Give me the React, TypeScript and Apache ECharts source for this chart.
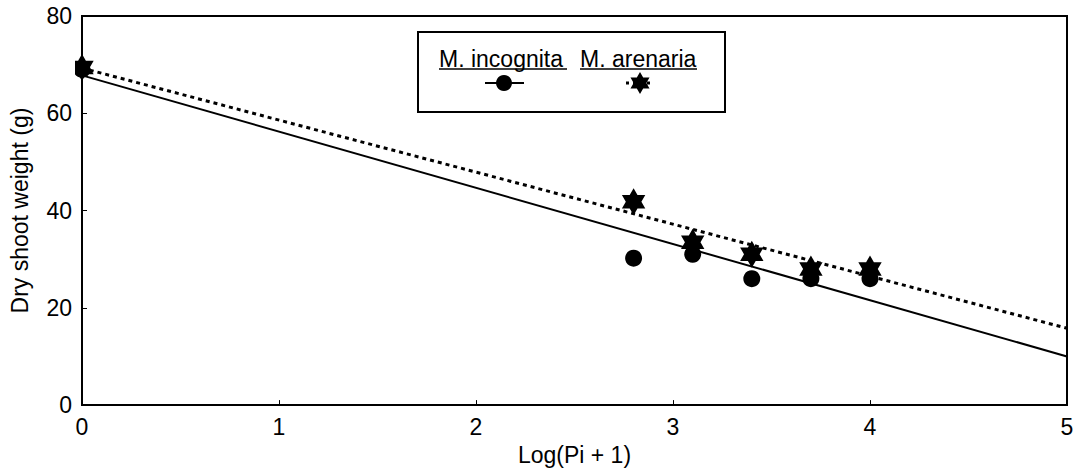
import React, { useEffect, useRef } from "react";
import * as echarts from "echarts";

// ---- data ----
const xValues = [0, 2.8, 3.1, 3.4, 3.7, 4.0];
const incognitaWeights = [69.0, 30.2, 31.0, 26.0, 26.0, 26.0];
const arenariaWeights = [69.4, 41.8, 33.5, 31.0, 28.0, 28.0];
const fitX = [0, 5];
const incognitaFit = [67.8, 10.0];
const arenariaFit = [69.3, 15.8];
const seriesNames = ["M. incognita", "M. arenaria"];
const xTitle = "Log(Pi + 1)";
const yTitle = "Dry shoot weight (g)";

const FONT = "'Liberation Sans', Arial, Helvetica, sans-serif";

function starPoints(cx: number, cy: number, R: number): number[][] {
  const pts: number[][] = [];
  const r = R / Math.sqrt(3);
  for (let i = 0; i < 12; i++) {
    const a = ((-90 + i * 30) * Math.PI) / 180;
    const rr = i % 2 === 0 ? R : r;
    pts.push([cx + rr * Math.cos(a), cy + rr * Math.sin(a)]);
  }
  return pts;
}

function starSymbol(): string {
  const pts = starPoints(50, 50, 50);
  return (
    "path://M" +
    pts.map((p) => p[0].toFixed(2) + " " + p[1].toFixed(2)).join(" L") +
    " Z"
  );
}

export default function App() {
  const ref = useRef<HTMLDivElement>(null);
  useEffect(() => {
    if (!ref.current) return;
    const chart = echarts.init(ref.current, null, { renderer: "svg" });
    const pair = (xs: number[], ys: number[]) => xs.map((x, i) => [x, ys[i]]);
    const axisCommon = {
      type: "value" as const,
      z: 20,
      axisLine: { show: true, lineStyle: { color: "#000", width: 2 } },
      axisTick: { show: true, inside: true, length: 5, lineStyle: { color: "#000", width: 1 } },
      axisLabel: { color: "#000", fontSize: 23, fontFamily: FONT, margin: 10 },
      splitLine: { show: false },
      nameLocation: "middle" as const,
      nameTextStyle: { color: "#000", fontSize: 23, fontFamily: FONT },
    };
    const legendLeft = 418, legendTop = 32, legendW = 307, legendH = 80;
    const t1x = 439, t2x = 580, ty = 59;
    chart.setOption({
      animation: false,
      backgroundColor: "#fff",
      grid: {
        left: 76, right: 14, top: 16, bottom: 61,
        show: true, borderColor: "#000", borderWidth: 2, backgroundColor: "transparent",
      },
      xAxis: { ...axisCommon, min: 0, max: 5, interval: 1, name: xTitle, nameGap: 36 },
      yAxis: { ...axisCommon, min: 0, max: 80, interval: 20, name: yTitle, nameGap: 51 },
      series: [
        {
          type: "line", name: seriesNames[0] + " fit", data: pair(fitX, incognitaFit),
          showSymbol: false, symbol: "none",
          lineStyle: { color: "#000", width: 2 }, z: 2,
        },
        {
          type: "line", name: seriesNames[1] + " fit", data: pair(fitX, arenariaFit),
          showSymbol: false, symbol: "none",
          lineStyle: { color: "#000", width: 3, type: [4, 4] }, z: 2,
        },
        {
          type: "scatter", name: seriesNames[0], data: pair(xValues, incognitaWeights),
          symbol: "circle", symbolSize: 17, clip: true,
          itemStyle: { color: "#000", opacity: 1 }, z: 3,
        },
        {
          type: "scatter", name: seriesNames[1], data: pair(xValues, arenariaWeights),
          symbol: starSymbol(), symbolSize: 27, symbolKeepAspect: true, clip: true,
          itemStyle: { color: "#000", opacity: 1 }, z: 4,
        },
      ],
      graphic: [
        // masks the part of the edge markers that falls outside the plot frame
        {
          type: "rect", z: 8,
          shape: { x: 52, y: 40, width: 23, height: 60 },
          style: { fill: "#fff" },
        },
        {
          type: "rect",
          shape: { x: legendLeft, y: legendTop, width: legendW, height: legendH },
          style: { fill: "#fff", stroke: "#000", lineWidth: 2 },
          z: 10,
        },
        {
          type: "text", x: t1x, y: ty, z: 11,
          style: { text: seriesNames[0], fill: "#000", font: `23px ${FONT}`, verticalAlign: "middle", align: "left" },
        },
        {
          type: "text", x: t2x, y: ty, z: 11,
          style: { text: seriesNames[1], fill: "#000", font: `23px ${FONT}`, verticalAlign: "middle", align: "left" },
        },
        { type: "line", z: 11, shape: { x1: t1x, y1: 69, x2: t1x + 128, y2: 69 }, style: { stroke: "#000", lineWidth: 1.5 } },
        { type: "line", z: 11, shape: { x1: t2x, y1: 69, x2: t2x + 117, y2: 69 }, style: { stroke: "#000", lineWidth: 1.5 } },
        { type: "line", z: 11, shape: { x1: 485, y1: 83, x2: 524, y2: 83 }, style: { stroke: "#000", lineWidth: 2 } },
        { type: "circle", z: 12, shape: { cx: 504, cy: 83, r: 8 }, style: { fill: "#000" } },
        { type: "line", z: 11, shape: { x1: 626, y1: 83, x2: 654, y2: 83 }, style: { stroke: "#000", lineWidth: 3, lineDash: [3, 4] } },
        { type: "polygon", z: 12, shape: { points: starPoints(640, 83, 11) }, style: { fill: "#000" } },
      ],
    });
    return () => chart.dispose();
  }, []);
  return (
    <div
      ref={ref}
      style={{ position: "fixed", left: 0, top: 0, width: 1081, height: 471, background: "#fff" }}
    />
  );
}
